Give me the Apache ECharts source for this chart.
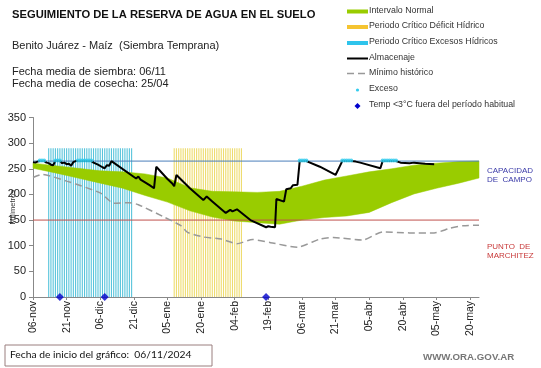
<!DOCTYPE html>
<html><head><meta charset="utf-8">
<script src="https://cdn.jsdelivr.net/npm/echarts@6/dist/echarts.min.js"></script>
<style>html,body{margin:0;padding:0;background:#fff}#c{width:541px;height:368px}</style>
</head><body><div id="c"></div>
<script>
// X axis: days since 06-nov-2024
const tickLabels = ['06-nov','21-nov','06-dic','21-dic','05-ene','20-ene','04-feb','19-feb','06-mar','21-mar','05-abr','20-abr','05-may','20-may'];
const tickStep = 15;
const dayMax = 199;

// Intervalo normal (band)
const bandDays  = [0, 10, 20, 30, 40, 50, 60, 70, 80, 90, 100, 110, 120, 130, 140, 150, 160, 170, 180, 190, 199];
const bandLower = [251, 242, 232, 222, 212, 198, 185, 168, 156, 148, 145, 142, 150, 155, 158, 165, 184, 201, 212, 222, 232];
const bandUpper = [261, 256, 251, 246, 244, 240, 232, 213, 206, 205, 204, 206, 216, 228, 236, 244, 250, 257, 261, 264, 265];

// Almacenaje
const almDays   = [0, 1, 2, 3, 5, 6, 7, 8, 9, 10, 12, 13, 14, 15, 16, 17, 18, 19, 26, 27, 29, 31, 32, 33, 34, 35, 46, 47, 48, 52, 54, 55, 60, 62, 63, 64, 70, 76, 77.5, 80, 86, 88, 89, 91, 97, 104, 105, 106, 108, 108.6, 112, 113, 115, 116, 118, 119, 122, 128, 135, 138, 142, 144, 146, 155, 156, 162, 164, 168, 170, 175, 179];
const almValues = [263, 262, 264, 265, 265, 262, 261, 258, 257, 265, 265, 261, 262, 259, 260, 256, 263, 265, 265, 262, 258, 253, 251, 257, 256, 265, 231, 235, 229, 218, 212, 254, 230, 222, 216, 238, 212, 189, 196, 186, 164, 170, 167, 171, 150, 136, 138, 137, 136, 191, 186, 210, 212, 218, 219, 265, 265, 254, 238, 265, 265, 264, 262, 251, 265, 265, 262, 261, 262, 260, 259];

// Mínimo histórico
const minDays   = [0, 4, 15, 30, 36, 43, 47, 58, 66, 69, 76, 84, 91, 98, 106, 118, 128, 134, 147, 156, 168, 179, 186, 192, 199];
const minValues = [233, 239, 226, 203, 183, 184, 180, 157, 139, 126, 117, 113, 104, 112, 106, 97, 113, 116, 111, 127, 125, 125, 134, 139, 140];

// Exceso points and frost diamonds
const excesoDays = [3, 4, 5, 10, 11, 12, 20, 21, 22, 23, 24, 25, 26, 119, 120, 121, 122, 138, 139, 140, 141, 142, 156, 157, 158, 159, 160, 161, 162];
const excesoLevel = 266;
const frostDays = [12, 32, 104];

// Critical periods (first day, last day) and bar height
const excessPeriod = [7, 44];
const deficitPeriod = [63, 93];
const periodTop = 290;

const fieldCapacity = 265;
const wiltingPoint = 150;

const FONT = 'Liberation Sans, Arial, sans-serif';

const periodBars = [];
for (let d = excessPeriod[0]; d <= excessPeriod[1]; d++) periodBars.push({value: [d, periodTop], itemStyle: {color: '#58c4db'}});
for (let d = deficitPeriod[0]; d <= deficitPeriod[1]; d++) periodBars.push({value: [d, periodTop], itemStyle: {color: '#eedc6e'}});

const zip = (a, b) => a.map((x, i) => [x, b[i]]);

const chart = echarts.init(document.getElementById('c'), null, {renderer: 'canvas'});

const legendY = [11.5, 27, 43, 58.5, 73.5, 90, 106];
const lx = 369;
const legendTexts = ['Intervalo Normal', 'Periodo Crítico Déficit Hídrico', 'Periodo Crítico Excesos Hídricos', 'Almacenaje', 'Mínimo histórico', 'Exceso', 'Temp <3°C fuera del período habitual'];

const graphics = [
  {type: 'text', left: 12, top: 9, style: {text: 'SEGUIMIENTO DE LA RESERVA DE AGUA EN EL SUELO', font: 'bold 11.2px ' + FONT, fill: '#111'}},
  {type: 'text', left: 12, top: 40, style: {text: 'Benito Juárez - Maíz  (Siembra Temprana)', font: '11px ' + FONT, fill: '#222'}},
  {type: 'text', left: 12, top: 66, style: {text: 'Fecha media de siembra: 06/11', font: '11px ' + FONT, fill: '#222'}},
  {type: 'text', left: 12, top: 78, style: {text: 'Fecha media de cosecha: 25/04', font: '11px ' + FONT, fill: '#222'}},
  {type: 'rect', shape: {x: 347, y: legendY[0] - 2, width: 21, height: 4}, style: {fill: '#99cc00'}},
  {type: 'rect', shape: {x: 347, y: legendY[1] - 2, width: 21, height: 4}, style: {fill: '#f5c431'}},
  {type: 'rect', shape: {x: 347, y: legendY[2] - 2, width: 21, height: 4}, style: {fill: '#2ec4ec'}},
  {type: 'line', shape: {x1: 347, y1: legendY[3], x2: 368, y2: legendY[3]}, style: {stroke: '#000', lineWidth: 2}},
  {type: 'line', shape: {x1: 347, y1: legendY[4], x2: 368, y2: legendY[4]}, style: {stroke: '#999', lineWidth: 1.5, lineDash: [7, 4]}},
  {type: 'circle', shape: {cx: 357.5, cy: legendY[5], r: 1.6}, style: {fill: '#33ccee'}},
  {type: 'polygon', shape: {points: [[357.5, legendY[6] - 3], [360.5, legendY[6]], [357.5, legendY[6] + 3], [354.5, legendY[6]]]}, style: {fill: '#0000cc'}},
  {type: 'text', left: 487, top: 166, style: {text: 'CAPACIDAD\nDE  CAMPO', font: '8px ' + FONT, fill: '#3a3aa8', lineHeight: 9}},
  {type: 'text', left: 487, top: 242, style: {text: 'PUNTO  DE\nMARCHITEZ', font: '8px ' + FONT, fill: '#c83a3a', lineHeight: 9}},
  {type: 'rect', shape: {x: 5, y: 345, width: 207, height: 21}, style: {fill: '#fff', stroke: '#9a7f7f', lineWidth: 1}},
  {type: 'text', left: 10, top: 349.5, style: {text: 'Fecha de inicio del gráfico:  06/11/2024', font: '10.3px Lato, ' + FONT, fill: '#111'}},
  {type: 'text', left: 423, top: 352.5, style: {text: 'WWW.ORA.GOV.AR', font: 'bold 9.7px ' + FONT, fill: '#777'}}
];
legendTexts.forEach((t, i) => {
  graphics.push({type: 'text', left: lx, top: legendY[i] - 5.5, style: {text: t, font: '8.8px ' + FONT, fill: '#333'}});
});

chart.setOption({
  animation: false,
  backgroundColor: '#fff',
  grid: {left: 33, right: 62, top: 117.5, bottom: 71, outerBoundsMode: 'none'},
  xAxis: {
    type: 'value', min: 0, max: dayMax, interval: tickStep,
    splitLine: {show: false},
    axisLine: {lineStyle: {color: '#888', width: 1}},
    axisTick: {show: true, length: 3, lineStyle: {color: '#888'}, customValues: tickLabels.map((_, i) => i * tickStep)},
    axisLabel: {
      rotate: 90, fontSize: 10.5, fontFamily: FONT, color: '#222', margin: 4,
      customValues: tickLabels.map((_, i) => i * tickStep),
      formatter: v => tickLabels[Math.round(v / tickStep)] || ''
    }
  },
  yAxis: {
    type: 'value', min: 0, max: 350, interval: 50,
    name: 'Milímetros', nameLocation: 'middle', nameRotate: 90, nameGap: 16, nameMoveOverlap: false,
    nameTextStyle: {fontSize: 7.5, fontFamily: FONT, color: '#333'},
    splitLine: {show: false},
    axisLine: {show: true, lineStyle: {color: '#888', width: 1}},
    axisTick: {show: true, length: 4, lineStyle: {color: '#888'}},
    axisLabel: {fontSize: 11, fontFamily: FONT, color: '#222', margin: 7}
  },
  series: [
    {type: 'bar', data: periodBars, barWidth: 1.1, silent: true, z: 1},
    {type: 'custom', data: [0], silent: true, z: 3,
      renderItem: (params, api) => {
        const pts = [];
        bandDays.forEach((d, i) => pts.push(api.coord([d, bandUpper[i]])));
        for (let i = bandDays.length - 1; i >= 0; i--) pts.push(api.coord([bandDays[i], bandLower[i]]));
        return {type: 'polygon', z2: 10, shape: {points: pts}, style: {fill: '#99cc00', stroke: '#99cc00', lineWidth: 0.5}};
      }},
    {type: 'line', z: 4, data: [[0, fieldCapacity], [dayMax, fieldCapacity]], symbol: 'none', lineStyle: {color: '#4a7ebb', width: 1}},
    {type: 'line', z: 4, data: [[0, wiltingPoint], [dayMax, wiltingPoint]], symbol: 'none', lineStyle: {color: '#c0504d', width: 1}},
    {type: 'line', z: 4, data: zip(minDays, minValues), symbol: 'none', smooth: 0.2, lineStyle: {color: '#999', width: 1.5, type: [7, 4]}},
    {type: 'line', z: 5, data: zip(almDays, almValues), symbol: 'none', lineStyle: {color: '#000', width: 2}},
    {type: 'scatter', z: 6, data: excesoDays.map(d => [d, excesoLevel]), symbol: 'circle', symbolSize: 4, itemStyle: {color: '#33ccee'}},
    {type: 'scatter', z: 6, data: frostDays.map(d => [d, 0]), symbol: 'diamond', symbolSize: 8, clip: false, itemStyle: {color: '#0000cc'}}
  ],
  graphic: graphics
});
</script>
</body></html>
